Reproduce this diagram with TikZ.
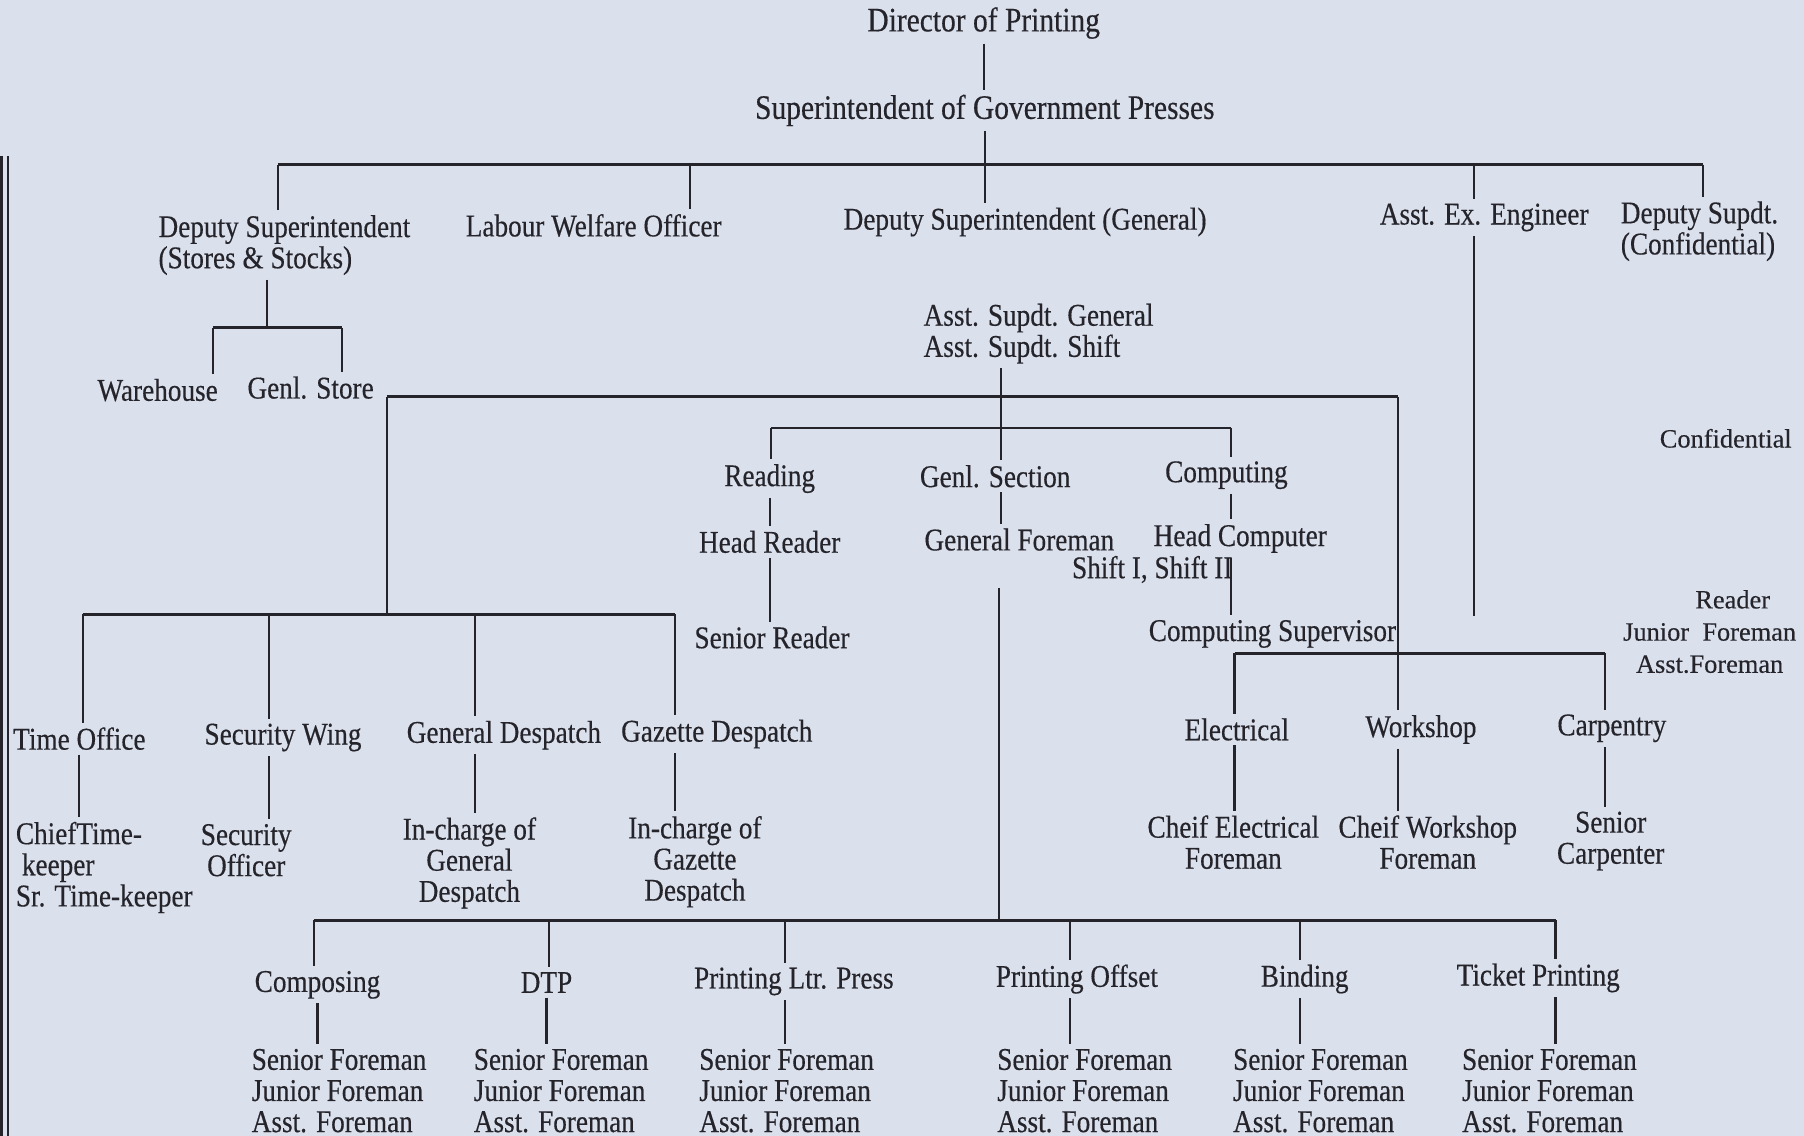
\documentclass[tikz,border=0pt]{standalone}
\usepackage{fontspec}
\setmainfont{Liberation Serif}[FakeStretch=0.86, FakeBold=0.35]
\newfontfamily\widefont{Liberation Serif}[FakeBold=0.3]

\definecolor{paper}{RGB}{219,224,237}
\definecolor{ink}{RGB}{36,36,42}

\begin{document}
\begin{tikzpicture}[
    x = 0.023cm,
    y = -0.023cm,
    lbl/.style = {
      inner xsep = 1pt,
      inner ysep = 2.5pt,
      align = center,
      text = ink,
      font = \fontsize{18}{17.7}\selectfont
    },
    lblL/.style = {lbl, align = left},
    head/.style = {lbl, font = \fontsize{19.5}{19}\selectfont},
    side/.style = {
      lbl,
      font = \widefont\fontsize{15}{18.3}\selectfont
    },
    stem/.style = {draw = ink, line width = 1.2pt},
    bus/.style = {draw = ink, line width = 1.7pt}
  ]
  \fill[paper] (0,0) rectangle (1568,987);
  \useasboundingbox (0,0) rectangle (1568,987);
  \draw[ink, line width=2.2pt] (1,136) -- (1,987);
  \draw[ink, line width=0.8pt] (7,136) -- (7,987);

  % top levels
  \node[head] (dop) at (855,20) {Director of Printing};
  \node[head] (sgp) at (856,96) {Superintendent of Government Presses};
  \node[lblL, anchor=west] (dss) at (136,213) {Deputy Superintendent\\(Stores \& Stocks)};
  \node[lbl] (lwo) at (516,196) {Labour Welfare Officer};
  \node[lbl] (dsg) at (891,193) {Deputy Superintendent (General)};
  \node[lbl] (aee) at (1290,189) {Asst. Ex. Engineer};
  \node[lblL, anchor=west] (dsc) at (1407,201) {Deputy Supdt.\\(Confidential)};
  \node[lbl] (wh) at (137,339) {Warehouse};
  \node[lbl] (gs) at (270,337) {Genl. Store};
  \node[lblL, anchor=west] (asg) at (801,290) {Asst. Supdt. General\\Asst. Supdt. Shift};

  % middle sections
  \node[lbl] (rd) at (669,416) {Reading};
  \node[lbl] (hr) at (669,471) {Head Reader};
  \node[lbl] (sr) at (671,554) {Senior Reader};
  \node[lbl] (gsec) at (865,414) {Genl. Section};
  \node[lbl] (gf) at (886,469) {General Foreman};
  \node[lbl] (cmp) at (1066,413) {Computing};
  \node[lbl] (hc) at (1078,468) {Head Computer};
  \node[lbl, anchor=east] (shf) at (1073,495) {Shift I, Shift II};
  \node[lbl] (cs) at (1106,551) {Computing Supervisor};
  \node[side] (conf) at (1500,381) {Confidential};
  \node[side] (rjf) at (1486,549) {\hspace*{0.92cm}Reader\\Junior\ \ Foreman\\Asst.Foreman};

  \node[lbl] (to) at (69,642) {Time Office};
  \node[lblL, anchor=west] (ctk) at (12,754) {ChiefTime-\\\hspace*{0.12cm}keeper\\Sr. Time-keeper};
  \node[lbl] (sw) at (246,641) {Security Wing};
  \node[lbl] (so) at (214,739) {Security\\Officer};
  \node[lbl] (gd) at (438,639) {General Despatch};
  \node[lbl] (icg) at (408,750) {In-charge of\\General\\Despatch};
  \node[lbl] (gzd) at (623,638) {Gazette Despatch};
  \node[lbl] (icz) at (604,749) {In-charge of\\Gazette\\Despatch};

  \node[lbl] (el) at (1075,634) {Electrical};
  \node[lbl] (cef) at (1072,732) {Cheif Electrical\\Foreman};
  \node[lbl] (ws) at (1235,634) {Workshop};
  \node[lbl] (cwf) at (1241,732) {Cheif Workshop\\Foreman};
  \node[lbl] (cp) at (1401,633) {Carpentry};
  \node[lbl] (scp) at (1400,731) {Senior\\Carpenter};

  % printing sections
  \node[lbl] (com) at (276,856) {Composing};
  \node[lbl] (dtp) at (475,854) {DTP};
  \node[lbl] (plp) at (690,853) {Printing Ltr. Press};
  \node[lbl] (po) at (936,851) {Printing Offset};
  \node[lbl] (bd) at (1134,851) {Binding};
  \node[lbl] (tp) at (1337,850) {Ticket Printing};
  \node[lblL, anchor=west] (fmCom) at (217,948) {Senior Foreman\\Junior Foreman\\Asst. Foreman};
  \node[lblL, anchor=west] (fmDtp) at (410,948) {Senior Foreman\\Junior Foreman\\Asst. Foreman};
  \node[lblL, anchor=west] (fmPlp) at (606,948) {Senior Foreman\\Junior Foreman\\Asst. Foreman};
  \node[lblL, anchor=west] (fmPo) at (865,948) {Senior Foreman\\Junior Foreman\\Asst. Foreman};
  \node[lblL, anchor=west] (fmBd) at (1070,948) {Senior Foreman\\Junior Foreman\\Asst. Foreman};
  \node[lblL, anchor=west] (fmTp) at (1269,948) {Senior Foreman\\Junior Foreman\\Asst. Foreman};

  % bus junctions
  \coordinate (b1w) at (242,143);
  \coordinate (b1e) at (1480,143);
  \coordinate (j-lwo) at (600,143);
  \coordinate (j-aee) at (1281,143);
  \coordinate (aeeEnd) at (1281,535);
  \coordinate (j-dss) at (232,285);
  \coordinate (b2w) at (185,285);
  \coordinate (b2e) at (297,285);
  \coordinate (j-asg) at (870,345);
  \coordinate (b3w) at (336,345);
  \coordinate (b3e) at (1215,345);
  \coordinate (b4w) at (670,372);
  \coordinate (b4e) at (1070,372);
  \coordinate (b5w) at (72,534);
  \coordinate (b5e) at (587,534);
  \coordinate (j-sw) at (234,534);
  \coordinate (j-gd) at (413,534);
  \coordinate (b6w) at (1073,568);
  \coordinate (b6e) at (1395,568);
  \coordinate (b7w) at (273,800);
  \coordinate (b7e) at (1352,800);
  \coordinate (j-gf) at (868,800);
  \coordinate (j-dtp) at (477,800);
  \coordinate (j-plp) at (682,800);
  \coordinate (j-po) at (930,800);
  \coordinate (j-bd) at (1130,800);

  \draw[stem] (dop.south) -- (dop.south |- sgp.north);
  \draw[stem] (sgp.south) -- (sgp.south |- dsg.north);
  \draw[bus] (b1w) -- (b1e);
  \draw[stem] (b1w) -- (b1w |- dss.north);
  \draw[stem] (j-lwo) -- (j-lwo |- lwo.north);
  \draw[stem] (j-aee) -- (j-aee |- aee.north);
  \draw[stem] (b1e) -- (b1e |- dsc.north);
  \draw[stem] (j-aee |- aee.south) -- (aeeEnd);

  \draw[stem] (j-dss |- dss.south) -- (j-dss);
  \draw[bus] (b2w) -- (b2e);
  \draw[stem] (b2w) -- (b2w |- wh.north);
  \draw[stem] (b2e) -- (b2e |- gs.north);

  \draw[stem] (j-asg |- asg.south) -- (j-asg |- gsec.north);
  \draw[stem] (j-asg |- gsec.south) -- (j-asg |- gf.north);
  \draw[bus] (b3w) -- (b3e);
  \draw[stem] (b3w) -- (b3w |- b5w);
  \draw[stem] (b3e) -- (b3e |- ws.north);

  \draw[bus] (b4w) -- (b4e);
  \draw[stem] (b4w) -- (b4w |- rd.north);
  \draw[stem] (b4e) -- (b4e |- cmp.north);
  \draw[stem] (rd.south) -- (rd.south |- hr.north);
  \draw[stem] (hr.south) -- (hr.south |- sr.north);
  \draw[stem] (b4e |- cmp.south) -- (b4e |- hc.north);
  \draw[stem] (b4e |- hc.south) -- (b4e |- cs.north);

  \draw[bus] (b5w) -- (b5e);
  \draw[stem] (b5w) -- (b5w |- to.north);
  \draw[stem] (j-sw) -- (j-sw |- sw.north);
  \draw[stem] (j-gd) -- (j-gd |- gd.north);
  \draw[stem] (b5e) -- (b5e |- gzd.north);
  \draw[stem] (to.south) -- (to.south |- ctk.north);
  \draw[stem] (j-sw |- sw.south) -- (j-sw |- so.north);
  \draw[stem] (j-gd |- gd.south) -- (j-gd |- icg.north);
  \draw[stem] (b5e |- gzd.south) -- (b5e |- icz.north);

  \draw[bus] (b6w) -- (b6e);
  \draw[stem] (b6w) -- (b6w |- el.north);
  \draw[stem] (b6e) -- (b6e |- cp.north);
  \draw[stem] (b6w |- el.south) -- (b6w |- cef.north);
  \draw[stem] (b3e |- ws.south) -- (b3e |- cwf.north);
  \draw[stem] (b6e |- cp.south) -- (b6e |- scp.north);

  \draw[stem] (j-gf |- shf.south) -- (j-gf);
  \draw[bus] (b7w) -- (b7e);
  \draw[stem] (b7w) -- (b7w |- com.north);
  \draw[stem] (j-dtp) -- (j-dtp |- dtp.north);
  \draw[stem] (j-plp) -- (j-plp |- plp.north);
  \draw[stem] (j-po) -- (j-po |- po.north);
  \draw[stem] (j-bd) -- (j-bd |- bd.north);
  \draw[stem] (b7e) -- (b7e |- tp.north);
  \draw[stem] (com.south) -- (com.south |- fmCom.north);
  \draw[stem] (dtp.south) -- (dtp.south |- fmDtp.north);
  \draw[stem] (j-plp |- plp.south) -- (j-plp |- fmPlp.north);
  \draw[stem] (j-po |- po.south) -- (j-po |- fmPo.north);
  \draw[stem] (j-bd |- bd.south) -- (j-bd |- fmBd.north);
  \draw[stem] (b7e |- tp.south) -- (b7e |- fmTp.north);
\end{tikzpicture}
\end{document}
